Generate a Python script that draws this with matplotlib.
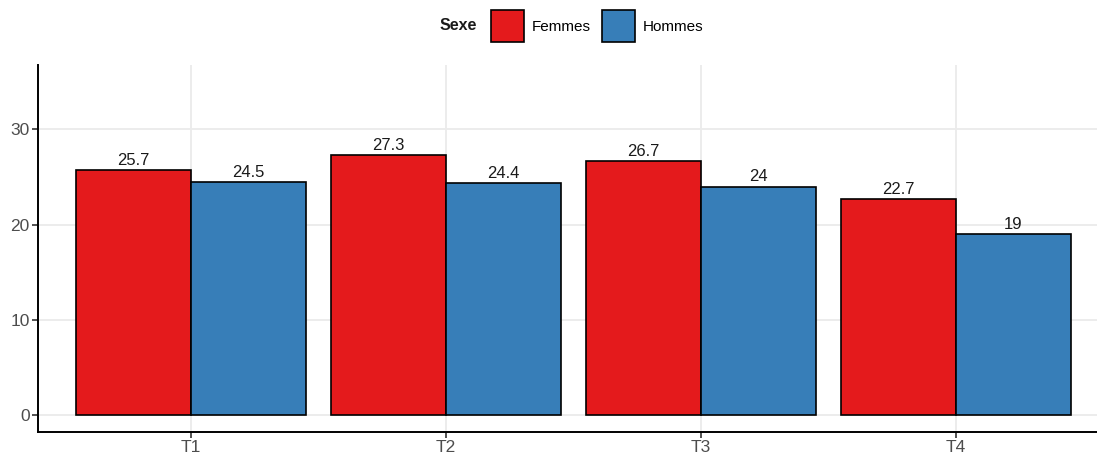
import matplotlib.pyplot as plt
from matplotlib.patches import Patch
import numpy as np

plt.rcParams['font.family'] = ['Liberation Sans', 'DejaVu Sans']

# Données
temps = ['T1', 'T2', 'T3', 'T4']
femmes = [25.7, 27.3, 26.7, 22.7]
hommes = [24.5, 24.4, 24.0, 19.0]
labels_f = ['25.7', '27.3', '26.7', '22.7']
labels_h = ['24.5', '24.4', '24', '19']
couleurs = {'Femmes': '#E41A1C', 'Hommes': '#377EB8'}

fig = plt.figure(figsize=(10.97, 4.57), dpi=100)
ax = fig.add_axes([38 / 1097, 25 / 457, (1097 - 38) / 1097, 367 / 457])

x = np.arange(1, len(temps) + 1)
w = 0.45

ax.bar(x - w / 2, femmes, width=w, color=couleurs['Femmes'], edgecolor='black', linewidth=1.2, zorder=3)
ax.bar(x + w / 2, hommes, width=w, color=couleurs['Hommes'], edgecolor='black', linewidth=1.2, zorder=3)

# Étiquettes des valeurs
for xi, v, lab in zip(x - w / 2, femmes, labels_f):
    ax.annotate(lab, (xi, v), xytext=(0, 1.5), textcoords='offset points',
                ha='center', va='bottom', fontsize=12, color='#1a1a1a')
for xi, v, lab in zip(x + w / 2, hommes, labels_h):
    ax.annotate(lab, (xi, v), xytext=(0, 1.5), textcoords='offset points',
                ha='center', va='bottom', fontsize=12, color='#1a1a1a')

ax.set_xlim(0.4, 4 + (1097 - 956) / 255)
ax.set_ylim(-1.75, 36.75)
ax.set_xticks(x)
ax.set_xticklabels(temps)
ax.set_yticks([0, 10, 20, 30])

ax.grid(True, color='#EBEBEB', linewidth=1.3, zorder=0)
for s in ['top', 'right']:
    ax.spines[s].set_visible(False)
for s in ['left', 'bottom']:
    ax.spines[s].set_linewidth(1.4)
    ax.spines[s].set_color('black')
ax.tick_params(axis='both', length=4, width=1.2, color='#333333',
               labelsize=12.5, labelcolor='#4D4D4D', pad=2)

# Légende
fig.text(458 / 1097, 1 - 26 / 457, 'Sexe', fontsize=11.5, fontweight='bold',
         ha='center', va='center', color='#1a1a1a')
handles = [Patch(facecolor=couleurs[k], edgecolor='black', linewidth=1.2) for k in couleurs]
fig.legend(handles, list(couleurs.keys()), loc='center', bbox_to_anchor=(597 / 1097, 1 - 26 / 457),
           ncol=2, frameon=False, fontsize=11, handlelength=2.2, handleheight=2.8,
           handletextpad=0.5, columnspacing=0.7, borderpad=0)

fig.savefig('out.png', dpi=100)
